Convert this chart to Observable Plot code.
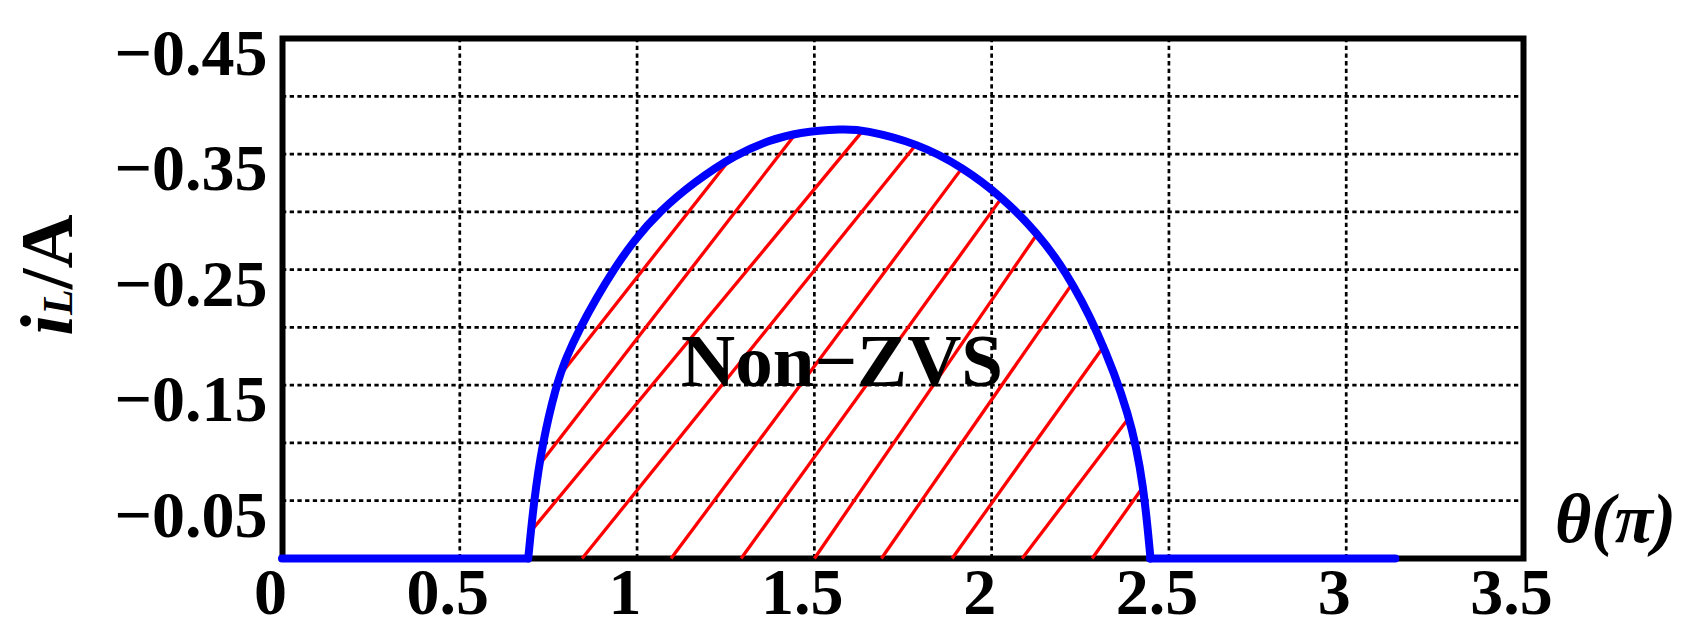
<!DOCTYPE html>
<html>
<head>
<meta charset="utf-8">
<script src="https://cdn.jsdelivr.net/npm/d3@7"></script>
<script src="https://cdn.jsdelivr.net/npm/@observablehq/plot@0.6"></script>
<style>
  html, body { margin: 0; padding: 0; background: #ffffff; }
  #chart { width: 1689px; height: 630px; }
</style>
</head>
<body>
<div id="chart"></div>
<script>
// ---- data ----
const xTicks = [0, 0.5, 1, 1.5, 2, 2.5, 3, 3.5];
const yTicks = [-0.45, -0.35, -0.25, -0.15, -0.05];
const xGrid = [0.5, 1, 1.5, 2, 2.5, 3];
const yGrid = [-0.05, -0.1, -0.15, -0.2, -0.25, -0.3, -0.35, -0.4];

// boundary arc i_L(θ) (non-zero part)
const arcTheta = [0.693, 0.709, 0.733, 0.772, 0.800, 0.840, 0.884, 0.934, 0.991, 1.062, 1.160, 1.280, 1.372, 1.455, 1.583, 1.639, 1.790, 1.918, 2.030, 2.130, 2.206, 2.296, 2.392, 2.429, 2.448];
const arcI     = [0, -0.05, -0.10, -0.15, -0.174, -0.20, -0.2246, -0.25, -0.2751, -0.30, -0.3257, -0.35, -0.3618, -0.369, -0.3718, -0.371, -0.3595, -0.3387, -0.3127, -0.2815, -0.25, -0.20, -0.1235, -0.0628, 0];

// zero-current stretches of the same curve
const flatStart = [0, 2.448];
const flatEnd   = [0.693, 3.14];

// red hatch segments (start / end)
const hatchTheta1 = [0.791, 0.7224, 0.699, 0.8449, 1.0959, 1.2934, 1.5001, 1.6891, 1.8886, 2.086, 2.2835];
const hatchI1     = [-0.1619, -0.0802, -0.023, 0, 0, 0, 0, 0, 0, 0, 0];
const hatchTheta2 = [1.268, 1.4494, 1.6392, 1.7898, 1.9185, 2.0296, 2.130, 2.2299, 2.321, 2.3915, 2.429];
const hatchI2     = [-0.3479, -0.3685, -0.3711, -0.3594, -0.3387, -0.3127, -0.2815, -0.239, -0.1856, -0.1235, -0.0628];

const annotationText = "Non\u2212ZVS";
const annotationTheta = 1.578;
const annotationI = -0.17;

const xLabel = "\u03b8(\u03c0)";

// ---- tables ----
const arc = arcTheta.map((t, k) => ({theta: t, i: arcI[k]}));
const flats = flatStart.map((s, k) => ({a: s, b: flatEnd[k]}));
const hatch = hatchTheta1.map((t, k) => ({t1: t, i1: hatchI1[k], t2: hatchTheta2[k], i2: hatchI2[k]}));

const FONT = "'Liberation Serif', 'Times New Roman', serif";
const fmt = d3.format("~g");
const BLUE = "#0000ff";

const chart = Plot.plot({
  width: 1689,
  height: 630,
  marginLeft: 282,
  marginRight: 166,
  marginTop: 38,
  marginBottom: 72,
  style: {background: "#ffffff", fontFamily: FONT, fontSize: "66px", fontWeight: "bold", color: "#000"},
  x: {domain: [0, 3.5]},
  y: {domain: [0, -0.45]},
  marks: [
    Plot.frame({stroke: "#000", strokeWidth: 6}),
    Plot.ruleX(xGrid, {x: d => d, stroke: "#000", strokeWidth: 2.7, strokeDasharray: "4.3,3.4"}),
    Plot.ruleY(yGrid, {y: d => d, stroke: "#000", strokeWidth: 2.7, strokeDasharray: "4.3,3.4"}),
    Plot.link(hatch, {x1: "t1", y1: "i1", x2: "t2", y2: "i2", stroke: "#ff0000", strokeWidth: 3.3}),
    Plot.ruleY(flats, {y: () => 0, x1: "a", x2: "b", stroke: BLUE, strokeWidth: 8, strokeLinecap: "round"}),
    Plot.line(arc, {x: "theta", y: "i", stroke: BLUE, strokeWidth: 8, curve: "basis", strokeLinecap: "round", strokeLinejoin: "round"}),
    Plot.text([annotationText], {x: () => annotationTheta, y: () => annotationI, text: d => d, fontSize: 75, fontWeight: "bold", fontFamily: FONT, textAnchor: "middle", lineAnchor: "middle", fill: "#000"}),
    Plot.axisX(xTicks, {tickSize: 0, tickPadding: 9, dx: -12, label: null, tickFormat: fmt, fontSize: 66, fontWeight: "bold", fontFamily: FONT}),
    Plot.axisY(yTicks, {tickSize: 0, tickPadding: 15, dy: 15, label: null, tickFormat: fmt, fontSize: 66, fontWeight: "bold", fontFamily: FONT})
  ]
});

document.getElementById("chart").appendChild(chart);

// axis titles with mixed styles
const svg = d3.select(chart);
const yt = svg.append("text")
  .attr("transform", "translate(72,275) rotate(-90)")
  .attr("text-anchor", "middle")
  .style("font-family", FONT)
  .style("font-weight", "bold")
  .style("font-size", "75px")
  .attr("fill", "#000");
yt.append("tspan").style("font-style", "italic").text("i");
yt.append("tspan").style("font-style", "italic").style("font-size", "42px").text("L");
yt.append("tspan").text("/A");

svg.append("text")
  .attr("x", 1555)
  .attr("y", 542)
  .attr("text-anchor", "start")
  .style("font-family", FONT)
  .style("font-weight", "bold")
  .style("font-style", "italic")
  .style("font-size", "70px")
  .attr("fill", "#000")
  .text(xLabel);
</script>
</body>
</html>
